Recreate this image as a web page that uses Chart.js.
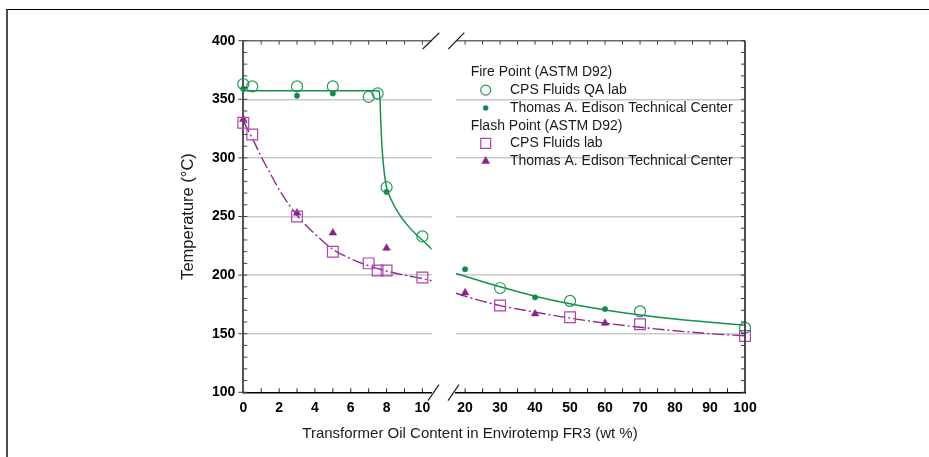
<!DOCTYPE html>
<html><head><meta charset="utf-8">
<script src="https://cdn.jsdelivr.net/npm/chart.js@4.4.1/dist/chart.umd.min.js"></script>
<style>
html,body{margin:0;padding:0;background:#fff;}
#wrap{position:relative;width:929px;height:457px;overflow:hidden;font-family:"Liberation Sans",Arial,Helvetica,sans-serif;}
#frame{position:absolute;left:6px;top:8.5px;width:940px;height:470px;border-top:1.5px solid #000;border-left:2px solid #4d4d4d;}
canvas{position:absolute;top:0;}
#cl{left:0;width:444px;height:457px;}
#cr{left:444px;width:485px;height:457px;}
#xt{position:absolute;left:0;width:940px;top:425px;text-align:center;font-size:15px;line-height:16px;color:#1a1a1a;white-space:nowrap;}
</style></head><body>
<div id="wrap"><div id="frame"></div>
<canvas id="cl" width="444" height="457"></canvas>
<canvas id="cr" width="485" height="457"></canvas>
<div id="xt">Transformer Oil Content in Envirotemp FR3 (wt %)</div>
</div>
<script>
// ---------- data ----------
const fireQA_x   = [0, 0.5, 3, 5, 7, 7.5, 8, 10, 30, 50, 70, 100];
const fireQA_y   = [363, 361, 361, 361, 352, 355, 275, 233, 189, 178, 169, 155];
const fireEd_x   = [0, 3, 5, 8, 20, 40, 60];
const fireEd_y   = [359, 353, 355, 271, 205, 181, 171];
const flashCPS_x = [0, 0.5, 3, 5, 7, 7.5, 8, 10, 30, 50, 70, 100];
const flashCPS_y = [330, 320, 250, 220, 210, 204, 204, 198, 174, 164, 158, 148];
const flashEd_x  = [0, 3, 5, 8, 20, 40, 60];
const flashEd_y  = [333, 253, 236, 223, 185, 167, 159];

// fitted curves as drawn in the reference
const fireFitL_x  = [0, 7.58, 7.63, 7.68, 7.75, 7.86, 8.0, 8.3, 8.7, 9.2, 9.7, 10.2, 10.52];
const fireFitL_y  = [357.3, 357.3, 350, 330, 308, 289, 275, 263, 252, 242, 234, 227, 222];
const fireFitR_x  = [17.4, 20, 30, 40, 50, 60, 70, 80, 90, 100];
const fireFitR_y  = [201.5, 199, 190, 182, 175.5, 170.3, 166, 162.5, 159.7, 157.3];
const flashFitL_x = [0, 0.5, 1, 1.5, 2, 3, 4, 5, 6, 7, 8, 9, 10, 10.52];
const flashFitL_y = [331, 317, 301, 287, 273, 251, 235, 222, 214, 208, 203.5, 200, 197, 195.2];
const flashFitR_x = [17.4, 20, 30, 40, 50, 60, 70, 80, 90, 100];
const flashFitR_y = [184.5, 182, 174, 168.4, 163.3, 159, 155.5, 152.5, 150, 148.2];

const seriesLabels  = ['CPS Fluids QA lab', 'Thomas A. Edison Technical Center', 'CPS Fluids lab', 'Thomas A. Edison Technical Center'];
const legendHeaders = ['Fire Point (ASTM D92)', 'Flash Point (ASTM D92)'];
const yTicks      = [100, 150, 200, 250, 300, 350, 400];
const xTicksLeft  = [0, 2, 4, 6, 8, 10];
const xTicksRight = [20, 30, 40, 50, 60, 70, 80, 90, 100];
const xMinorLeft  = [1, 2, 3, 4, 5, 6, 7, 8, 9, 10];
const xMinorRight = [20, 25, 30, 35, 40, 45, 50, 55, 60, 65, 70, 75, 80, 85, 90, 95];
const panelLeft  = {min: 0, max: 10.52};
const panelRight = {min: 17.4, max: 100};

// ---------- styles ----------
const FONT = '"Liberation Sans", Arial, Helvetica, sans-serif';
const GREEN_LINE = '#13904c', GREEN_OPEN = '#1f9a57', GREEN_DOT = '#0e8a47';
const PURPLE_LINE = '#8e2a8c', PURPLE_SQ = '#ad45ab', PURPLE_TRI = '#8b2386';

function pts(xs, ys, p) {
  return xs.map((x, i) => ({x: x, y: ys[i]})).filter(q => q.x >= p.min - 1e-9 && q.x <= p.max + 1e-9);
}
function makeDatasets(p, fx, fy, lx, ly) {
  return [
    {label: seriesLabels[0], data: pts(fireQA_x, fireQA_y, p), showLine: false, pointStyle: 'circle', pointRadius: 5.5,
     borderColor: GREEN_OPEN, backgroundColor: 'rgba(0,0,0,0)', pointBorderWidth: 1.2, clip: false},
    {label: seriesLabels[1], data: pts(fireEd_x, fireEd_y, p), showLine: false, pointStyle: 'circle', pointRadius: 2.7,
     borderColor: GREEN_DOT, backgroundColor: GREEN_DOT, pointBorderWidth: 0.5, clip: false},
    {label: seriesLabels[2], data: pts(flashCPS_x, flashCPS_y, p), showLine: false, pointStyle: 'rect', pointRadius: 7.6,
     borderColor: PURPLE_SQ, backgroundColor: 'rgba(0,0,0,0)', pointBorderWidth: 1.2, clip: false},
    {label: seriesLabels[3], data: pts(flashEd_x, flashEd_y, p), showLine: false, pointStyle: 'triangle', pointRadius: 4.4,
     borderColor: PURPLE_TRI, backgroundColor: PURPLE_TRI, pointBorderWidth: 0.5, clip: false},
    {label: 'fire fit', data: pts(fx, fy, p), showLine: true, borderColor: GREEN_LINE, borderWidth: 1.5,
     pointRadius: 0, cubicInterpolationMode: 'monotone', fill: false},
    {label: 'flash fit', data: pts(lx, ly, p), showLine: true, borderColor: PURPLE_LINE, borderWidth: 1.4,
     borderDash: [12, 3, 2, 3], pointRadius: 0, cubicInterpolationMode: 'monotone', fill: false}
  ];
}

function seg(ctx, x1, y1, x2, y2, color, w) {
  ctx.beginPath(); ctx.moveTo(x1, y1); ctx.lineTo(x2, y2);
  ctx.strokeStyle = color; ctx.lineWidth = w; ctx.stroke();
}

const decoPlugin = {
  id: 'deco',
  afterDatasetsDraw(chart, args, opts) {
    const ctx = chart.ctx, a = chart.chartArea, x = chart.scales.x, y = chart.scales.y;
    ctx.save();
    ctx.setLineDash([]);
    seg(ctx, a.left, a.top, a.right, a.top, '#6b6b6b', 1.5);
    for (const v of opts.xMinor) {
      const px = x.getPixelForValue(v);
      seg(ctx, px, a.bottom, px, a.bottom - 4, '#222', 1);
      seg(ctx, px, a.top, px, a.top + 4, '#444', 1);
    }
    for (let v = yTicks[0]; v <= yTicks[yTicks.length - 1]; v += 10) {
      const py = y.getPixelForValue(v);
      if (opts.side === 'left') {
        seg(ctx, a.left, py, a.left + 4, py, '#444', 1);
        if (v % 50 === 0) seg(ctx, a.left - 5, py, a.left, py, '#444', 1);
      } else {
        seg(ctx, a.right - 4, py, a.right, py, '#333', 1);
      }
    }
    if (opts.side === 'left') {
      seg(ctx, a.right - 9, a.top + 8.3, a.right + 7.6, a.top - 8, '#222', 1.2);
      seg(ctx, a.right - 3.7, a.bottom + 8.4, a.right + 7.3, a.bottom - 7.6, '#222', 1.2);
    } else {
      seg(ctx, a.right, a.top, a.right, a.bottom, '#3a3a3a', 1.8);
      seg(ctx, a.left - 7.7, a.top + 8.3, a.left + 8.3, a.top - 8, '#222', 1.2);
      seg(ctx, a.left - 8, a.bottom + 8.4, a.left + 3, a.bottom - 7.6, '#222', 1.2);
    }
    ctx.restore();
  },
  afterDraw(chart, args, opts) {
    if (!opts.legend) return;
    const ctx = chart.ctx, L = opts.legend;
    const rows = [{h: legendHeaders[0]}, {d: 0}, {d: 1}, {h: legendHeaders[1]}, {d: 2}, {d: 3}];
    const sizes = [5, 2.5, 7, 4.6];
    ctx.save();
    ctx.font = '14px ' + FONT;
    ctx.textBaseline = 'middle';
    ctx.textAlign = 'left';
    rows.forEach((r, i) => {
      const yy = L.y0 + i * L.dy;
      if (r.h !== undefined) {
        ctx.fillStyle = '#1a1a1a';
        ctx.fillText(r.h, L.headerX, yy);
      } else {
        const ds = chart.data.datasets[r.d];
        ctx.strokeStyle = ds.borderColor;
        ctx.fillStyle = ds.backgroundColor;
        ctx.lineWidth = ds.pointBorderWidth;
        Chart.helpers.drawPoint(ctx, {pointStyle: ds.pointStyle, radius: sizes[r.d], borderWidth: ds.pointBorderWidth, rotation: 0}, L.markerX, yy);
        ctx.fillStyle = '#1a1a1a';
        ctx.fillText(ds.label, L.textX, yy);
      }
    });
    ctx.restore();
  }
};

const tickFont = {family: FONT, size: 14, weight: 'bold'};
const gridColor = c => (c.tick && (c.tick.value === 100 || c.tick.value === 400)) ? 'rgba(0,0,0,0)' : '#c8c8c8';

function baseOptions(p, xTicks, side, pad) {
  return {
    responsive: false, animation: false, events: [],
    layout: {padding: pad},
    plugins: {legend: {display: false}, tooltip: {enabled: false}, deco: side},
    scales: {
      x: {type: 'linear', min: p.min, max: p.max,
          afterBuildTicks: s => { s.ticks = xTicks.map(v => ({value: v})); },
          afterFit: s => { s.height = 64.7; },
          grid: {display: false, drawTicks: false},
          border: {display: true, color: '#000', width: 1.5},
          ticks: {font: tickFont, color: '#000', padding: 7, maxRotation: 0, autoSkip: false}},
      y: {type: 'linear', min: 100, max: 400,
          afterBuildTicks: s => { s.ticks = yTicks.map(v => ({value: v})); },
          grid: {color: gridColor, lineWidth: 1.5, drawTicks: false},
          ticks: {font: tickFont, color: '#000', padding: 8}}
    }
  };
}

// left panel
const optL = baseOptions(panelLeft, xTicksLeft, {side: 'left', xMinor: xMinorLeft}, {left: 175.3, top: 40.7, right: 12.3, bottom: 0});
optL.scales.y.afterFit = s => { s.width = 68; };
optL.scales.y.border = {display: true, color: '#555', width: 2};
optL.scales.y.title = {display: true, text: 'Temperature (°C)', font: {family: FONT, size: 16.5}, color: '#1a1a1a', padding: {top: 3, bottom: 0}};
new Chart(document.getElementById('cl'), {
  type: 'line',
  data: {datasets: makeDatasets(panelLeft, fireFitL_x, fireFitL_y, flashFitL_x, flashFitL_y)},
  options: optL,
  plugins: [decoPlugin]
});

// right panel
const optR = baseOptions(panelRight, xTicksRight,
  {side: 'right', xMinor: xMinorRight, legend: {headerX: 26.7, markerX: 41.7, textX: 66, y0: 72.4, dy: 17.75}},
  {left: 12, top: 40.7, right: 184, bottom: 0});
optR.scales.y.afterFit = s => { s.width = 0; };
optR.scales.y.ticks.display = false;
optR.scales.y.border = {display: false};
new Chart(document.getElementById('cr'), {
  type: 'line',
  data: {datasets: makeDatasets(panelRight, fireFitR_x, fireFitR_y, flashFitR_x, flashFitR_y)},
  options: optR,
  plugins: [decoPlugin]
});
</script>
</body></html>
